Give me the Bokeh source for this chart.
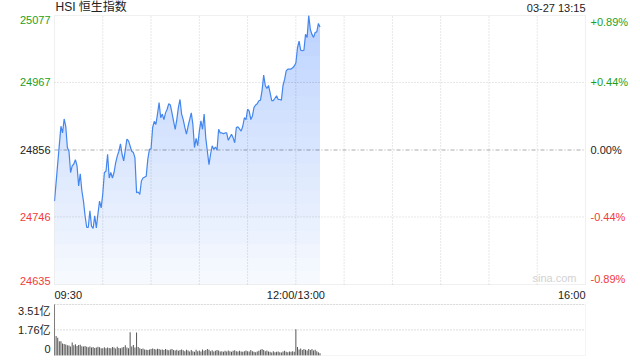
import numpy as np
from bokeh.plotting import figure
from bokeh.models import Label, Range1d, BoxAnnotation
from bokeh.embed import file_html
from bokeh.resources import INLINE

# ---------------- data ----------------
title_text = "HSI 恒生指数"
stamp_text = "03-27 13:15"
prev_close = 24856
price_ticks = [24635, 24746, 24856, 24967, 25077]
pct_labels = ["-0.89%", "-0.44%", "0.00%", "+0.44%", "+0.89%"]
time_labels = ["09:30", "12:00/13:00", "16:00"]
time_label_minutes = [0, 150, 330]
grid_minutes = [30, 60, 90, 120, 150, 180, 210, 240, 270, 300]
session_minutes = 330
vol_ticks = [0, 1.76, 3.51]
vol_labels = ["0", "1.76亿", "3.51亿"]

# minutes after 09:30 (12:00 and 13:00 share minute 150)
minutes = [0, 4, 5, 6, 7, 8, 9, 10, 11, 12, 13, 14, 15, 16, 17, 18, 19, 20, 21, 22,
           23, 24, 25, 26, 27, 28, 29, 30, 31, 32, 33, 34, 35, 36, 37, 38, 39, 40, 41, 42,
           43, 45, 46, 48, 49, 50, 51, 52, 53, 54, 55, 57, 58, 59, 60, 61, 62, 63, 64, 65,
           66, 67, 68, 69, 70, 71, 72, 73, 75, 76, 77, 78, 79, 80, 81, 82, 83, 84, 85, 86,
           87, 88, 89, 90, 91, 92, 93, 94, 95, 96, 97, 98, 99, 100, 101, 102, 103, 104, 105, 106,
           107, 108, 109, 110, 111, 112, 113, 114, 116, 117, 118, 119, 120, 121, 122, 123, 124, 125, 126, 127,
           128, 129, 130, 131, 132, 133, 134, 135, 136, 137, 138, 139, 140, 141, 142, 143, 144, 145, 147, 148,
           149, 150, 151, 152, 153, 154, 155, 156, 157, 158, 159, 160, 161, 162, 163, 164, 165]
prices = [24772, 24895, 24884, 24907, 24895, 24860, 24854, 24819, 24830, 24833, 24840, 24830, 24797, 24817, 24789, 24772, 24748, 24729, 24729, 24756,
          24731, 24727, 24748, 24728, 24751, 24772, 24761, 24784, 24819, 24821, 24849, 24810, 24819, 24810, 24819, 24835, 24846, 24854, 24866, 24849,
          24838, 24874, 24871, 24854, 24852, 24843, 24786, 24787, 24783, 24805, 24810, 24813, 24841, 24857, 24858, 24893, 24903, 24898, 24915, 24934,
          24909, 24915, 24906, 24917, 24923, 24932, 24930, 24917, 24890, 24906, 24926, 24939, 24915, 24906, 24893, 24882, 24895, 24906, 24917, 24898,
          24860, 24875, 24863, 24887, 24904, 24890, 24915, 24876, 24854, 24832, 24849, 24863, 24857, 24861, 24856, 24890, 24884, 24884, 24883, 24884,
          24884, 24872, 24877, 24882, 24876, 24868, 24893, 24894, 24887, 24895, 24909, 24906, 24923, 24920, 24906, 24912, 24926, 24930, 24932, 24937,
          24938, 24954, 24979, 24962, 24957, 24962, 24950, 24937, 24937, 24941, 24945, 24939, 24939, 24938, 24962, 24972, 24986, 24989, 24989, 24991,
          24994, 24999, 25024, 25035, 25020, 25019, 25020, 25046, 25041, 25077, 25054, 25046, 25041, 25049, 25050, 25064, 25058]

# volume per minute (亿), minute 0..165
volumes = [3.51, 1.35, 1.22, 0.98, 0.98, 0.82, 0.80, 0.76, 0.70, 0.68, 0.62, 0.90, 0.70, 0.78, 0.66, 0.72, 0.74, 0.64, 0.62, 0.66,
           0.60, 0.56, 0.62, 0.55, 0.58, 0.52, 0.55, 0.60, 0.56, 0.50, 0.50, 0.56, 0.50, 0.55, 0.52, 0.50, 0.58, 0.55, 0.48, 0.60,
           0.52, 0.50, 0.55, 0.58, 0.70, 0.55, 0.50, 1.60, 0.62, 0.72, 0.55, 1.58, 0.58, 0.50, 0.45, 0.48, 0.42, 0.40, 0.38, 0.42,
           0.45, 0.48, 0.45, 0.42, 0.46, 0.44, 0.40, 0.42, 0.38, 0.44, 0.40, 0.36, 0.42, 0.45, 0.38, 0.35, 0.40, 0.32, 0.38, 0.42,
           0.36, 0.30, 0.40, 0.35, 0.28, 0.38, 0.30, 0.25, 0.40, 0.30, 0.35, 0.28, 0.42, 0.32, 0.38, 0.45, 0.40, 0.30, 0.36, 0.28,
           0.32, 0.38, 0.35, 0.28, 0.30, 0.25, 0.32, 0.28, 0.35, 0.30, 0.26, 0.33, 0.36, 0.30, 0.28, 0.32, 0.27, 0.25, 0.30, 0.35,
           0.30, 0.28, 0.38, 0.30, 0.26, 0.22, 0.28, 0.32, 0.40, 0.45, 0.38, 0.30, 0.35, 0.28, 0.25, 0.20, 0.30, 0.22, 0.25, 0.28,
           0.22, 0.20, 0.28, 0.32, 0.25, 0.22, 0.28, 0.25, 0.30, 0.26, 1.80, 0.58, 0.42, 0.48, 0.38, 0.45, 0.40, 0.35, 0.45, 0.38,
           0.45, 0.35, 0.40, 0.30, 0.22, 0.15]
vol_minutes = list(range(len(volumes)))

# ---------------- layout (pixels) ----------------
W, H = 640, 360
FL, FR = 54, 585          # plot frame left / right
PT, PB = 15, 284          # price panel top / bottom
VT, VB = 304, 355         # volume panel top / bottom

FONT = "Liberation Sans, Noto Sans CJK SC"
GREEN = "#1d9f1d"
RED = "#f23b3b"
BLACK = "#222222"
GRID = "#cfcfcf"
LINE = "#4386ee"
FILL = "#5b93e8"

kx = session_minutes / (FR - FL)
x_start = -FL * kx
x_end = session_minutes + (W - FR) * kx

p_lo, p_hi = price_ticks[0], price_ticks[-1]
ky = (p_hi - p_lo) / (PB - PT)
y_start = p_lo - (H - PB) * ky
y_end = p_hi + PT * ky

v_hi = vol_ticks[-1]
kv = v_hi / (VB - VT)
v_start = -(H - VB) * kv
v_end = v_hi + VT * kv


def sign_color(v):
    if v > prev_close:
        return GREEN
    if v < prev_close:
        return RED
    return BLACK


p = figure(width=W, height=H, x_range=Range1d(x_start, x_end),
           y_range=Range1d(y_start, y_end),
           output_backend="svg", toolbar_location=None,
           x_axis_location=None, y_axis_location=None,
           min_border=0, min_border_left=0, min_border_right=0,
           min_border_top=0, min_border_bottom=0)
p.extra_y_ranges = {"vol": Range1d(v_start, v_end)}
p.outline_line_color = None
p.grid.visible = False
p.background_fill_color = "white"
p.border_fill_color = "white"

# ---- price panel grid ----
p.segment(x0=grid_minutes, y0=[p_lo] * len(grid_minutes), x1=grid_minutes,
          y1=[p_hi] * len(grid_minutes), line_color=GRID, line_width=1, line_dash="1 2")
inner = [v for v in price_ticks[1:-1] if v != prev_close]
p.segment(x0=[0] * len(inner), y0=inner, x1=[session_minutes] * len(inner), y1=inner,
          line_color=GRID, line_width=1, line_dash="1 2")
p.segment(x0=[0], y0=[prev_close], x1=[session_minutes], y1=[prev_close],
          line_color="#aaaaaa", line_width=1, line_dash="4 2 1 2")

# gradient-like fill under the line
base = np.array(prices, dtype=float)
p.varea(x=minutes, y1=p_lo, y2=base, fill_color=FILL, fill_alpha=0.04)
levels = np.linspace(p_lo, p_hi, 21)[:-1]
for L in levels:
    p.varea(x=minutes, y1=L, y2=np.maximum(base, L), fill_color=FILL, fill_alpha=0.015)

p.line(minutes, prices, line_color=LINE, line_width=1.2)

p.add_layout(BoxAnnotation(left=0, right=session_minutes, bottom=p_lo, top=p_hi,
                           fill_alpha=0, line_color="#cccccc", line_width=1))

# price labels (left) and percent labels (right)
n = len(price_ticks)
for i, (v, pct) in enumerate(zip(price_ticks, pct_labels)):
    bl = "middle"
    if i == 0:
        bl = "bottom"
    elif i == n - 1:
        bl = "top"
    c = sign_color(v)
    p.add_layout(Label(x=0, y=v, x_offset=-4, text=str(v), text_color=c,
                       text_font=FONT, text_font_size="11px",
                       text_align="right", text_baseline=bl))
    p.add_layout(Label(x=session_minutes, y=v, x_offset=5, text=pct, text_color=c,
                       text_font=FONT, text_font_size="11px",
                       text_align="left", text_baseline=bl))

# time labels
aligns = ["left", "center", "right"]
for t, m, a in zip(time_labels, time_label_minutes, aligns):
    p.add_layout(Label(x=m, y=p_lo, y_offset=-4, text=t, text_color=BLACK,
                       text_font=FONT, text_font_size="11px",
                       text_align=a, text_baseline="top"))

# title & timestamp
p.add_layout(Label(x=0, y=p_hi, x_offset=1, y_offset=2, text=title_text,
                   text_color=BLACK, text_font=FONT, text_font_size="12px",
                   text_align="left", text_baseline="bottom"))
p.add_layout(Label(x=session_minutes, y=p_hi, y_offset=2, text=stamp_text,
                   text_color=BLACK, text_font=FONT, text_font_size="11px",
                   text_align="right", text_baseline="bottom"))
# watermark
p.add_layout(Label(x=session_minutes, y=p_lo, x_offset=-9, y_offset=1, text="sina.com",
                   text_color="#d2d2d2", text_font=FONT, text_font_size="11px",
                   text_align="right", text_baseline="bottom"))

# ---------------- volume panel ----------------
vt = vol_ticks[1:]
p.segment(x0=[0] * len(vt), y0=vt, x1=[session_minutes] * len(vt), y1=vt,
          y_range_name="vol", line_color="#bbbbbb", line_width=1, line_dash="1 2")
p.vbar(x=vol_minutes, top=volumes, width=0.62, bottom=0, fill_color="#555555",
       line_color=None, y_range_name="vol")
p.add_layout(BoxAnnotation(left=0, right=session_minutes, bottom=0, top=v_hi,
                           y_range_name="vol", fill_alpha=0,
                           line_color="#dddddd", line_width=1))
for i, (v, t) in enumerate(zip(vol_ticks, vol_labels)):
    bl = "middle"
    yo = 0
    if i == 0:
        bl = "bottom"
        yo = 3
    elif i == len(vol_ticks) - 1:
        bl = "top"
    p.add_layout(Label(x=0, y=v, x_offset=-4, y_offset=yo, y_range_name="vol", text=t,
                       text_color=BLACK, text_font=FONT, text_font_size="11px",
                       text_align="right", text_baseline=bl))

open("out.html", "w").write(file_html(p, INLINE))
